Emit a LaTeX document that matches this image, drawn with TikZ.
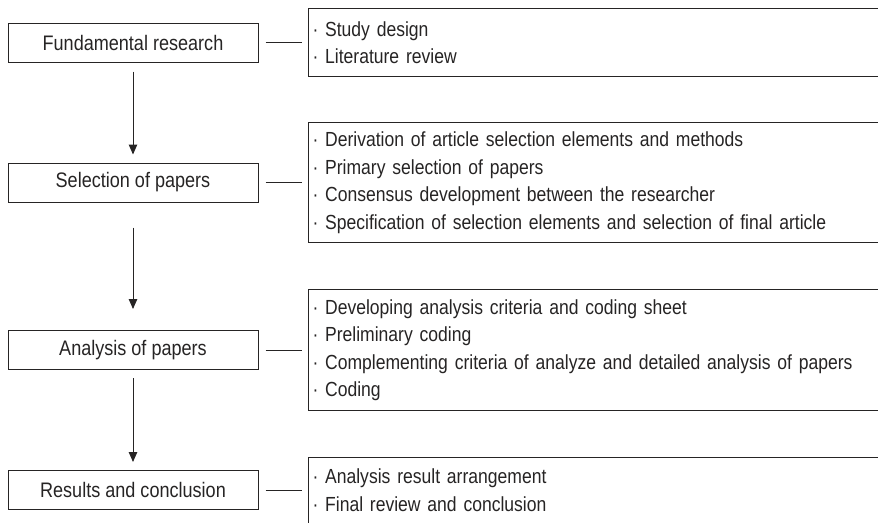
\documentclass[tikz,border=0pt]{standalone}
\usepackage{fontspec}
\setmainfont{Liberation Sans}[FakeStretch=0.86]
\usetikzlibrary{arrows.meta}
\definecolor{ink}{HTML}{262424}
\begin{document}
\begin{tikzpicture}[x=1pt,y=-1pt,
  every node/.style={text=ink, font=\fontsize{21}{27.5}\selectfont},
  stagebox/.style={draw=ink, line width=1pt, minimum width=250pt, minimum height=39pt, inner sep=0pt},
  detailbox/.style={draw=ink, line width=1pt, anchor=west, align=left, text width=600pt, inner xsep=4pt, inner ysep=0pt, font=\fontsize{20.4}{27.5}\selectfont},
  link/.style={draw=ink, line width=1pt, shorten <=7pt, shorten >=6pt},
  flow/.style={draw=ink, line width=1pt, -{Triangle[length=10pt,width=8.5pt]}}]
\clip (0,0) rectangle (878,522);
\node[stagebox] (s1) at (133,42.5) {Fundamental research};
\node[stagebox] (s2) at (133,182.5) {Selection of papers};
\node[stagebox] (s3) at (133,350) {Analysis of papers};
\node[stagebox] (s4) at (133,490) {Results and conclusion};
\node[detailbox, minimum height=68pt] (d1) at (308,42.5) {· Study design\\· Literature review};
\node[detailbox, minimum height=120pt] (d2) at (308,182.5) {· Derivation of article selection elements and methods\\· Primary selection of papers\\· Consensus development between the researcher\\· Specification of selection elements and selection of final article};
\node[detailbox, minimum height=121pt] (d3) at (308,350) {· Developing analysis criteria and coding sheet\\· Preliminary coding\\· Complementing criteria of analyze and detailed analysis of papers\\· Coding};
\node[detailbox, minimum height=66pt] (d4) at (308,490) {· Analysis result arrangement\\· Final review and conclusion};
\draw[link] (s1.east) -- (d1.west);
\draw[link] (s2.east) -- (d2.west);
\draw[link] (s3.east) -- (d3.west);
\draw[link] (s4.east) -- (d4.west);
\draw[flow, shorten <=9pt, shorten >=8pt] (s1.south) -- (s2.north);
\draw[flow, shorten <=25pt, shorten >=21pt] (s2.south) -- (s3.north);
\draw[flow, shorten <=8pt, shorten >=8pt] (s3.south) -- (s4.north);
\end{tikzpicture}
\end{document}
